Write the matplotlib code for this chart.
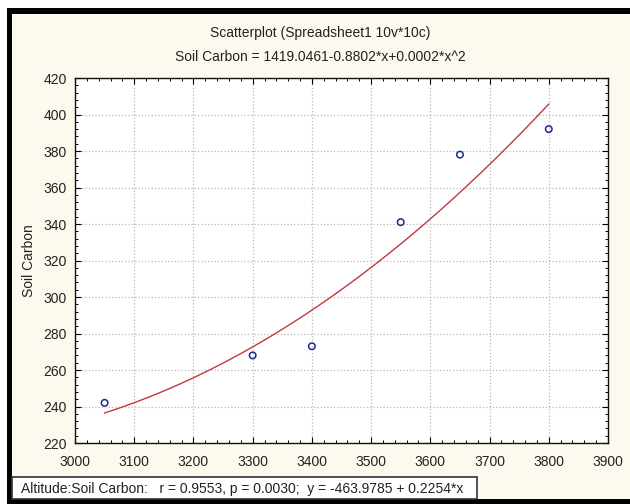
import numpy as np
import matplotlib.pyplot as plt
from matplotlib.patches import Rectangle
from matplotlib.ticker import MultipleLocator

plt.rcParams['font.family'] = ['Liberation Sans', 'DejaVu Sans']

# data
altitude = [3050, 3300, 3400, 3550, 3650, 3800]
soil_carbon = [242, 268, 273, 341, 378, 392]

title_1 = 'Scatterplot (Spreadsheet1 10v*10c)'
title_2 = 'Soil Carbon = 1419.0461-0.8802*x+0.0002*x^2'
stats_text = 'Altitude:Soil Carbon:   r = 0.9553, p = 0.0030;  y = -463.9785 + 0.2254*x'

bg = '#fdf9ee'
fs = 10

fig = plt.figure(figsize=(6.3, 5.04), dpi=100, facecolor=bg)
W, H = 630, 504


def px_rect(x0, y0, x1, y1, **kw):
    # rectangle given in picture pixels (y from top)
    fig.patches.append(Rectangle((x0 / W, 1 - y1 / H), (x1 - x0) / W, (y1 - y0) / H,
                                 transform=fig.transFigure, figure=fig, **kw))


# outer white margin + black frame
px_rect(0, 0, W, 8, facecolor='white', edgecolor='none')
px_rect(0, 0, 7, H, facecolor='white', edgecolor='none')
px_rect(7, 8, W, 14, facecolor='black', edgecolor='none')
px_rect(7, 8, 12, H, facecolor='black', edgecolor='none')
px_rect(7, 499, W, H, facecolor='black', edgecolor='none')

ax = fig.add_axes([75 / W, 1 - 443 / H, (608 - 75) / W, (443 - 78) / H])
ax.set_facecolor('white')

# quadratic fit through the points
coef = np.polyfit(altitude, soil_carbon, 2)
xs = np.linspace(min(altitude), max(altitude), 200)
ax.plot(xs, np.polyval(coef, xs), color='#c0393f', linewidth=1.0, zorder=2)

ax.scatter(altitude, soil_carbon, s=22, facecolors='none', edgecolors='#1e2a8c',
           linewidths=1.1, zorder=3)

ax.set_xlim(3000, 3900)
ax.set_ylim(220, 420)
ax.xaxis.set_major_locator(MultipleLocator(100))
ax.xaxis.set_minor_locator(MultipleLocator(20))
ax.yaxis.set_major_locator(MultipleLocator(20))
ax.yaxis.set_minor_locator(MultipleLocator(4))
ax.tick_params(which='both', direction='in', top=True, right=True, labelsize=fs,
               colors='black', labelcolor='#222222')
ax.tick_params(which='major', length=4, width=0.8)
ax.tick_params(which='minor', length=2, width=0.7)
ax.tick_params(axis='x', which='major', pad=9)
ax.tick_params(axis='y', which='major', pad=6)
ax.grid(True, which='major', linestyle=':', color='#b8b8b8', linewidth=0.9)
for s in ax.spines.values():
    s.set_linewidth(1.0)
    s.set_color('#111111')

ax.set_ylabel('Soil Carbon', fontsize=fs, color='#222222', labelpad=5)

fig.text(320 / W, 1 - 33 / H, title_1, ha='center', va='center',
         fontsize=fs, color='#222222')
fig.text(320 / W, 1 - 57 / H, title_2, ha='center', va='center',
         fontsize=fs, color='#222222')

# stats box at the bottom
px_rect(12, 477, 477, 499, facecolor='white', edgecolor='#333333', linewidth=1.2)
fig.text(21 / W, 1 - 489 / H, stats_text, ha='left', va='center',
         fontsize=fs, color='#222222')

fig.savefig('out.png', dpi=100, facecolor=bg)
